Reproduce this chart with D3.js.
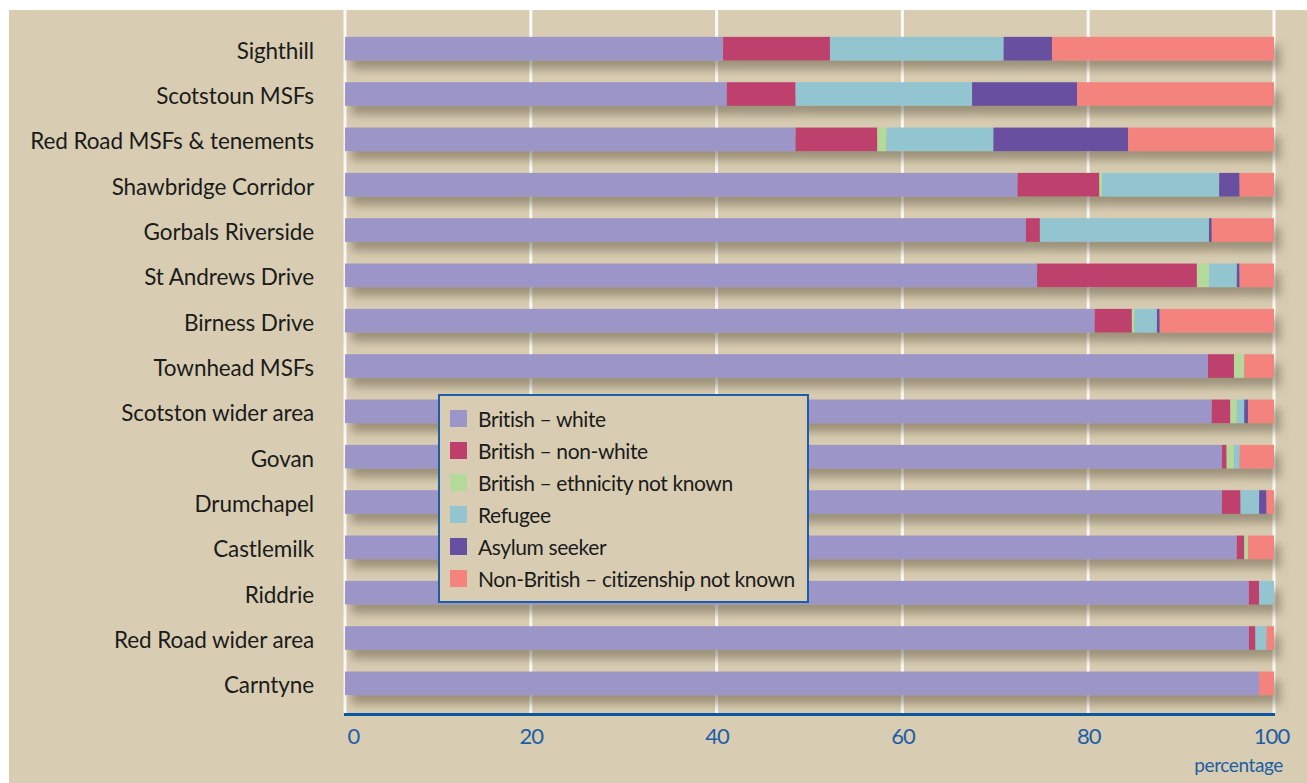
<!DOCTYPE html>
<html>
<head>
<meta charset="utf-8">
<script src="https://cdn.jsdelivr.net/npm/d3@7"></script>
<style>
  body { margin: 0; background: #fff; }
  svg { display: block; font-family: Lato, "Open Sans", sans-serif; }
</style>
</head>
<body>
<svg id="chart" width="1307" height="783"></svg>
<script>
const areas = ["Sighthill", "Scotstoun MSFs", "Red Road MSFs & tenements", "Shawbridge Corridor",
  "Gorbals Riverside", "St Andrews Drive", "Birness Drive", "Townhead MSFs", "Scotston wider area",
  "Govan", "Drumchapel", "Castlemilk", "Riddrie", "Red Road wider area", "Carntyne"];

const groups = ["British – white", "British – non-white", "British – ethnicity not known",
  "Refugee", "Asylum seeker", "Non-British – citizenship not known"];

const britishWhite    = [40.7, 41.1, 48.5, 72.4, 73.3, 74.5, 80.7, 92.9, 93.3, 94.4, 94.4, 96.0, 97.3, 97.3, 98.4];
const britishNonWhite = [11.5, 7.4, 8.8, 8.8, 1.5, 17.2, 4.0, 2.8, 2.0, 0.5, 2.0, 0.8, 1.1, 0.7, 0];
const britishUnknown  = [0, 0, 1.0, 0.3, 0, 1.3, 0.3, 1.1, 0.7, 0.8, 0, 0.4, 0, 0, 0];
const refugee         = [18.7, 19.0, 11.5, 12.6, 18.2, 3.0, 2.4, 0, 0.8, 0.6, 2.0, 0, 1.6, 1.2, 0];
const asylumSeeker    = [5.2, 11.3, 14.5, 2.2, 0.3, 0.3, 0.3, 0, 0.4, 0, 0.8, 0, 0, 0, 0];
const nonBritish      = [23.9, 21.2, 15.7, 3.7, 6.7, 3.7, 12.3, 3.2, 2.8, 3.7, 0.8, 2.8, 0, 0.8, 1.6];

const xTicks = [0, 20, 40, 60, 80, 100];

const colors = ["#9b95c8", "#be3f6c", "#b5d89b", "#92c5cf", "#6750a0", "#f4837e"];
const seriesValues = [britishWhite, britishNonWhite, britishUnknown, refugee, asylumSeeker, nonBritish];

// build rows for d3.stack
const rows = areas.map((a, i) => {
  const r = { area: a };
  groups.forEach((g, j) => { r[g] = seriesValues[j][i]; });
  return r;
});
const stacked = d3.stack().keys(groups)(rows);

const svg = d3.select("#chart");

// panel background
svg.append("rect").attr("x", 9).attr("y", 10).attr("width", 1298).attr("height", 773).attr("fill", "#d8cdb2");

const defs = svg.append("defs");
const f = defs.append("filter").attr("id", "shadow")
  .attr("x", "-5%").attr("y", "-50%").attr("width", "115%").attr("height", "250%");
f.append("feDropShadow").attr("dx", 6).attr("dy", 9).attr("stdDeviation", 5)
  .attr("flood-color", "#5e5440").attr("flood-opacity", 0.5);

const x = d3.scaleLinear().domain([0, 100]).range([345, 1274]);
const y = d3.scaleBand().domain(areas).range([26, 706]).paddingInner(0.48).paddingOuter(0.24);

// gridlines
svg.append("g").selectAll("line").data(xTicks).join("line")
  .attr("x1", d => x(d)).attr("x2", d => x(d))
  .attr("y1", 10).attr("y2", 713)
  .attr("stroke", "#fbfaf6").attr("stroke-width", 3);

// bars: one group per row so each bar casts one shadow
const rowG = svg.append("g").selectAll("g.row").data(areas).join("g")
  .attr("class", "row").attr("filter", "url(#shadow)");
rowG.each(function (area, i) {
  d3.select(this).selectAll("rect").data(stacked.map((s, j) => ({ seg: s[i], j })))
    .join("rect")
    .attr("x", d => x(d.seg[0]))
    .attr("y", y(area))
    .attr("width", d => Math.max(0, x(d.seg[1]) - x(d.seg[0])))
    .attr("height", y.bandwidth())
    .attr("fill", d => colors[d.j]);
});

// category labels
svg.append("g").attr("transform", "translate(314,0)")
  .call(d3.axisLeft(y).tickSize(0).tickPadding(0))
  .call(g => g.select(".domain").remove())
  .selectAll("text")
  .attr("font-size", 22.5).attr("fill", "#1b1b1b").attr("font-family", "Lato, sans-serif")
  .attr("letter-spacing", -0.1)
  .attr("dy", "0.44em");

// x axis
const xAxis = svg.append("g").attr("transform", "translate(0,714)")
  .call(d3.axisBottom(x).tickValues(xTicks).tickSize(0).tickPadding(14));
xAxis.select(".domain").remove();
xAxis.append("line").attr("x1", 344).attr("x2", 1275).attr("y1", 0.5).attr("y2", 0.5)
  .attr("stroke", "#0c56a2").attr("stroke-width", 3);
xAxis.selectAll(".tick text")
  .attr("font-size", 22).attr("fill", "#1d5ea6").attr("font-family", "Lato, sans-serif")
  .attr("letter-spacing", -1)
  .attr("dy", "0.72em")
  .attr("text-anchor", d => d === 0 ? "start" : "middle")
  .attr("dx", d => d === 0 ? 2 : (d === 100 ? -3 : 0));

svg.append("text").attr("x", 1283).attr("y", 772).attr("text-anchor", "end")
  .attr("font-size", 19).attr("letter-spacing", -0.4).attr("fill", "#1d5ea6").text("percentage");

// legend
const leg = svg.append("g").attr("transform", "translate(439,395)");
leg.append("rect").attr("width", 369).attr("height", 207)
  .attr("fill", "#d8cdb2").attr("stroke", "#1c5ea8").attr("stroke-width", 2);
const item = leg.selectAll("g.item").data(groups).join("g")
  .attr("class", "item")
  .attr("transform", (d, i) => `translate(11,${15 + i * 32})`);
item.append("rect").attr("width", 17).attr("height", 17).attr("fill", (d, i) => colors[i]);
item.append("text").attr("x", 28).attr("y", 9).attr("dy", "0.38em")
  .attr("font-size", 21).attr("letter-spacing", -0.4).attr("fill", "#1b1b1b").text(d => d);
</script>
</body>
</html>
